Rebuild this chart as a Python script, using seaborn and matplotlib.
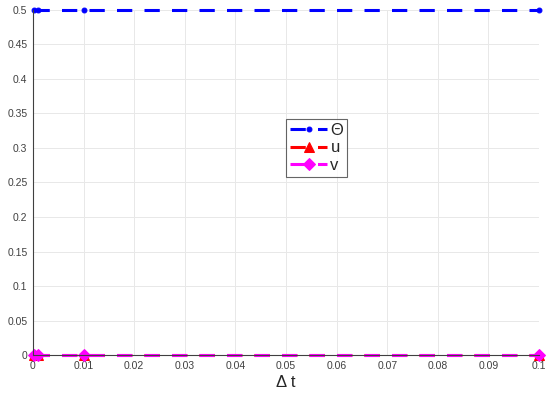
import numpy as np
import pandas as pd
import matplotlib
matplotlib.use('Agg')
import matplotlib.pyplot as plt
import seaborn as sns

# Data
dt = [0.1, 0.01, 0.001, 0.0001]
theta = [0.5, 0.5, 0.5, 0.5]
u = [0.0, 0.0, 0.0, 0.0]
v = [0.0, 0.0, 0.0, 0.0]

sns.set_style('white')
plt.rcParams['font.family'] = ['Liberation Sans', 'DejaVu Sans']

fig = plt.figure(figsize=(5.5, 3.95), dpi=100)
ax = fig.add_axes([0.06, 0.101, 0.92, 0.874])

series = [
    ('Θ', theta, 'blue', 'o', 3.5),
    ('u', u, 'red', '^', 7),
    ('v', v, 'magenta', 'D', 6),
]
for name, vals, col, mk, ms in series:
    sns.lineplot(x=dt, y=vals, ax=ax, color=col, marker=mk, markersize=ms,
                 markeredgecolor=col, linestyle='--', linewidth=2.2,
                 dashes=False, label=name, clip_on=False)
    ax.lines[-1].set_dashes([5, 4])

ax.set_xlim(0, 0.1)
ax.set_ylim(0, 0.5)
ax.set_xticks(np.arange(0, 0.1001, 0.01))
ax.set_xticklabels(['0', '0.01', '0.02', '0.03', '0.04', '0.05', '0.06',
                    '0.07', '0.08', '0.09', '0.1'])
ax.set_yticks(np.arange(0, 0.5001, 0.05))
ax.set_yticklabels(['0', '0.05', '0.1', '0.15', '0.2', '0.25', '0.3',
                    '0.35', '0.4', '0.45', '0.5'])
ax.tick_params(labelsize=7.5, colors='#404040', length=3, direction='in', pad=4)
ax.grid(True, color='#e8e8e8', linewidth=0.7)
for s in ['top', 'right']:
    ax.spines[s].set_visible(False)
for s in ['left', 'bottom']:
    ax.spines[s].set_color('#404040')
    ax.spines[s].set_linewidth(0.8)

ax.set_xlabel('Δ t', fontsize=12, labelpad=3)
ax.set_ylabel('')

leg = ax.legend(loc='center', bbox_to_anchor=(0.561, 0.60), fontsize=12,
                frameon=True, fancybox=False, edgecolor='#404040',
                handlelength=2.2, handletextpad=0.2, borderpad=0.25,
                labelspacing=0.15)
leg.get_frame().set_linewidth(0.8)

fig.savefig('out.png', dpi=100)
